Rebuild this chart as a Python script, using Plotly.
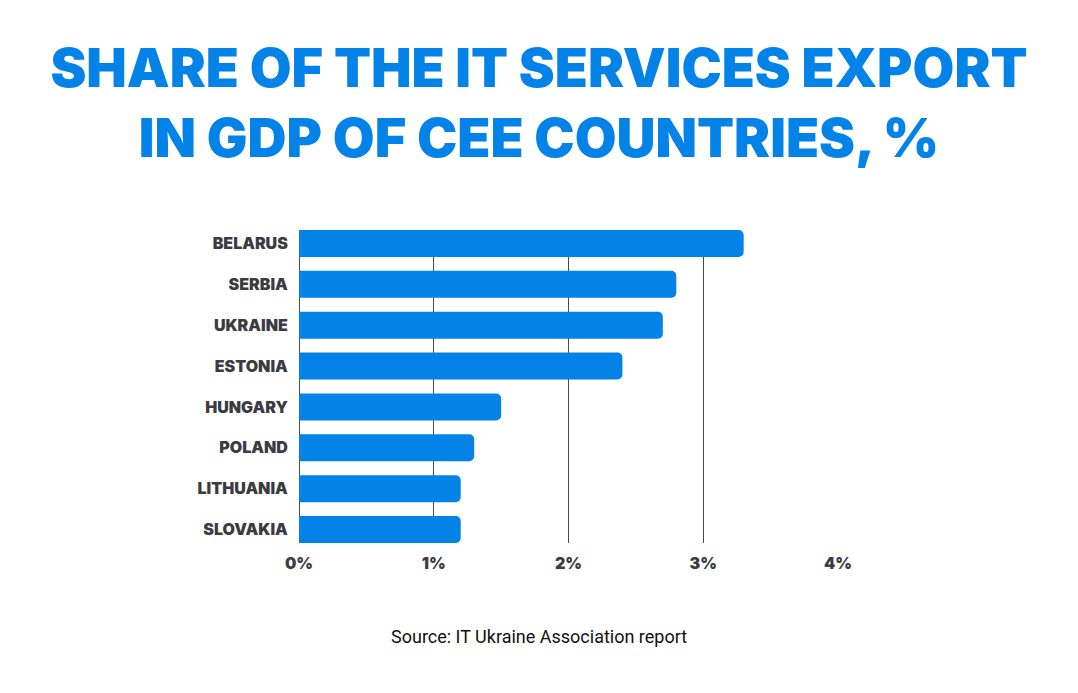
import plotly.graph_objects as go

# values, % of GDP
countries = ['BELARUS', 'SERBIA', 'UKRAINE', 'ESTONIA', 'HUNGARY', 'POLAND', 'LITHUANIA', 'SLOVAKIA']
shares = [3.3, 2.8, 2.7, 2.4, 1.5, 1.3, 1.2, 1.2]
tick_vals = [0, 1, 2, 3, 4]
tick_text = ['0%', '1%', '2%', '3%', '4%']

blue = '#0383e8'
dark = '#3b3b42'

# page body has an 8px margin, so the figure is 8px smaller each way
W, H = 1070, 685

bar = go.Bar(x=shares, y=countries, orientation='h', width=0.66,
             marker=dict(color=blue, cornerradius=5, line=dict(width=0)),
             hoverinfo='x+y')

fig = go.Figure(data=[bar])
fig.update_layout(
    width=W, height=H,
    margin=dict(l=291, r=240, t=222, b=150),
    paper_bgcolor='white', plot_bgcolor='white',
    title=dict(text='SHARE OF THE IT SERVICES EXPORT<br>IN GDP OF CEE COUNTRIES, %',
               x=531 / W, xanchor='center', xref='container',
               y=0.885, yanchor='top', yref='container',
               font=dict(family='Inter', size=54, color=blue, weight=900)),
    showlegend=False,
)
fig.update_xaxes(range=[0, 4], tickvals=tick_vals, ticktext=tick_text,
                 showgrid=True, gridcolor='#4a4a4a', gridwidth=1,
                 zeroline=True, zerolinecolor='#4a4a4a', zerolinewidth=1,
                 ticks='outside', ticklen=6, tickcolor='rgba(0,0,0,0)',
                 tickfont=dict(family='Inter', size=16, color=dark, weight=900),
                 fixedrange=True)
fig.update_yaxes(categoryorder='array', categoryarray=countries,
                 range=[7.33, -0.33],
                 showgrid=False, zeroline=False,
                 ticks='outside', ticklen=7, tickcolor='rgba(0,0,0,0)',
                 tickfont=dict(family='Inter', size=16, color=dark, weight=900),
                 fixedrange=True)
fig.add_annotation(text='Source: IT Ukraine Association report',
                   x=(531 - 291) / (830 - 291), xref='paper', xanchor='center',
                   y=-(628 - 535) / (535 - 222), yref='paper', yanchor='middle',
                   showarrow=False,
                   font=dict(family='Roboto', size=18, color='#111111'))

fig.write_html('out.html')
